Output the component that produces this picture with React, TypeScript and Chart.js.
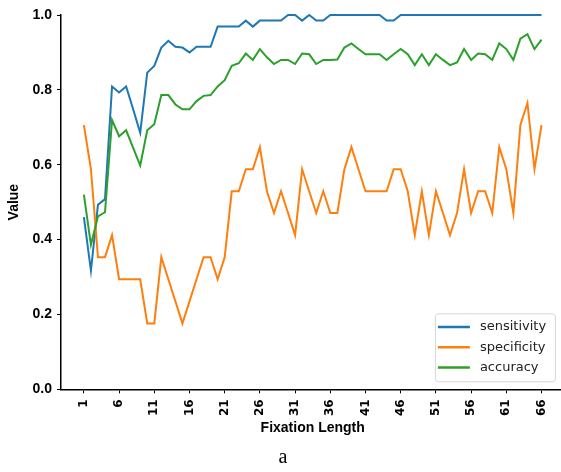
import React, { useEffect, useRef } from "react";
import { Chart, registerables } from "chart.js";

Chart.register(...registerables);

const fixationLengths = [
  1, 2, 3, 4, 5, 6, 7, 8, 9, 10, 11, 12, 13, 14, 15, 16, 17, 18, 19, 20, 21, 22,
  23, 24, 25, 26, 27, 28, 29, 30, 31, 32, 33, 34, 35, 36, 37, 38, 39, 40, 41, 42,
  43, 44, 45, 46, 47, 48, 49, 50, 51, 52, 53, 54, 55, 56, 57, 58, 59, 60, 61, 62,
  63, 64, 65, 66,
];

const sensitivity = [
  0.46, 0.317, 0.493, 0.508, 0.809, 0.793, 0.809, 0.748, 0.685, 0.846, 0.864,
  0.913, 0.931, 0.915, 0.913, 0.9, 0.915, 0.915, 0.915, 0.969, 0.969, 0.969,
  0.969, 0.985, 0.969, 0.985, 0.985, 0.985, 0.985, 1.0, 1.0, 0.985, 1.0, 0.985,
  0.985, 1.0, 1.0, 1.0, 1.0, 1.0, 1.0, 1.0, 1.0, 0.985, 0.985, 1.0, 1.0, 1.0,
  1.0, 1.0, 1.0, 1.0, 1.0, 1.0, 1.0, 1.0, 1.0, 1.0, 1.0, 1.0, 1.0, 1.0, 1.0,
  1.0, 1.0, 1.0,
];

const specificity = [
  0.706, 0.588, 0.353, 0.353, 0.412, 0.294, 0.294, 0.294, 0.294, 0.176, 0.176,
  0.353, 0.294, 0.235, 0.176, 0.235, 0.294, 0.353, 0.353, 0.294, 0.353, 0.529,
  0.529, 0.588, 0.588, 0.647, 0.529, 0.471, 0.529, 0.471, 0.412, 0.588, 0.529,
  0.471, 0.529, 0.471, 0.471, 0.588, 0.647, 0.588, 0.529, 0.529, 0.529, 0.529,
  0.588, 0.588, 0.529, 0.412, 0.529, 0.412, 0.529, 0.471, 0.412, 0.471, 0.588,
  0.471, 0.529, 0.529, 0.471, 0.647, 0.588, 0.471, 0.706, 0.765, 0.588, 0.706,
];

const accuracy = [
  0.52, 0.386, 0.462, 0.473, 0.719, 0.676, 0.692, 0.645, 0.598, 0.692, 0.708,
  0.786, 0.786, 0.761, 0.748, 0.748, 0.77, 0.784, 0.786, 0.809, 0.826, 0.864,
  0.871, 0.897, 0.88, 0.909, 0.887, 0.869, 0.88, 0.88, 0.869, 0.897, 0.895,
  0.869, 0.88, 0.88, 0.881, 0.913, 0.924, 0.909, 0.895, 0.895, 0.895, 0.88,
  0.895, 0.909, 0.895, 0.866, 0.895, 0.866, 0.895, 0.88, 0.866, 0.873, 0.909,
  0.88, 0.897, 0.895, 0.88, 0.924, 0.909, 0.88, 0.937, 0.949, 0.909, 0.934,
];

const xTickValues = [1, 6, 11, 16, 21, 26, 31, 36, 41, 46, 51, 56, 61, 66];
const yTickValues = [0, 0.2, 0.4, 0.6, 0.8, 1.0];
const seriesNames = ["sensitivity", "specificity", "accuracy"];
const seriesColors = ["#1f77b4", "#ff7f0e", "#2ca02c"];
const xLabel = "Fixation Length";
const yLabel = "Value";
const caption = "a";

const CANVAS_W = 580;
const CANVAS_H = 472;
const AREA_LEFT = 61;
const AREA_TOP = 15;
const AREA_BOTTOM = 389.3;
const AREA_RIGHT = 564.4;

const boxLegend = {
  id: "boxLegend",
  afterDatasetsDraw(chart: any) {
    const { ctx, chartArea } = chart;
    const boxW = 120;
    const boxH = 68;
    const right = chartArea.right - 9.5;
    const bottom = chartArea.bottom - 8;
    const left = right - boxW;
    const top = bottom - boxH;
    ctx.save();
    ctx.beginPath();
    if (ctx.roundRect) ctx.roundRect(left + 0.5, top + 0.5, boxW, boxH, 3);
    else ctx.rect(left + 0.5, top + 0.5, boxW, boxH);
    ctx.fillStyle = "rgba(255,255,255,0.8)";
    ctx.fill();
    ctx.strokeStyle = "#d6d6d6";
    ctx.lineWidth = 1;
    ctx.stroke();
    ctx.font = "13px 'DejaVu Sans'";
    ctx.textBaseline = "middle";
    ctx.textAlign = "left";
    chart.data.datasets.forEach((ds: any, i: number) => {
      const y = top + 13.7 + i * 20.2;
      ctx.strokeStyle = ds.borderColor;
      ctx.lineWidth = 2.5;
      ctx.beginPath();
      ctx.moveTo(left + 3, y);
      ctx.lineTo(left + 35, y);
      ctx.stroke();
      ctx.fillStyle = "#222";
      ctx.fillText(ds.label, left + 45, y);
    });
    ctx.restore();
  },
};

export default function App() {
  const canvasRef = useRef<HTMLCanvasElement | null>(null);

  useEffect(() => {
    const canvas = canvasRef.current;
    if (!canvas) return;
    const seriesValues = [sensitivity, specificity, accuracy];
    const datasets = seriesValues.map((vals, s) => ({
      label: seriesNames[s],
      data: vals.map((v, i) => ({ x: fixationLengths[i], y: v })),
      borderColor: seriesColors[s],
      backgroundColor: seriesColors[s],
      borderWidth: 2,
      pointRadius: 0,
      tension: 0,
      fill: false,
      clip: false,
      order: 3 - s,
    }));

    const axisTitleFont = { family: "'Liberation Sans', Arial, sans-serif", weight: "bold" as const, size: 14 };

    const chart = new Chart(canvas, {
      type: "line",
      data: { datasets },
      plugins: [boxLegend],
      options: {
        animation: false,
        responsive: false,
        maintainAspectRatio: false,
        devicePixelRatio: 1,
        layout: {
          padding: { left: 0, top: AREA_TOP, right: CANVAS_W - AREA_RIGHT, bottom: 0 },
        },
        plugins: {
          legend: { display: false },
          tooltip: { enabled: false },
        },
        scales: {
          x: {
            type: "linear",
            min: -2.25,
            max: 69.25,
            afterBuildTicks: (scale: any) => {
              scale.ticks = xTickValues.map((v) => ({ value: v }));
            },
            afterFit: (scale: any) => {
              scale.height = CANVAS_H - AREA_BOTTOM;
            },
            ticks: {
              autoSkip: false,
              minRotation: 90,
              maxRotation: 90,
              padding: 6,
              color: "#000",
              font: { family: "'DejaVu Sans', sans-serif", weight: "bold", size: 12 },
              callback: (v: any) => String(v),
            },
            grid: {
              display: true,
              drawOnChartArea: false,
              drawTicks: true,
              tickLength: 4,
              color: "#000",
              lineWidth: 1,
            },
            border: { display: true, color: "#000", width: 1.5 },
            title: {
              display: true,
              text: xLabel,
              color: "#000",
              font: axisTitleFont,
              padding: { top: 0, bottom: 35 },
            },
          },
          y: {
            type: "linear",
            min: 0,
            max: 1,
            afterBuildTicks: (scale: any) => {
              scale.ticks = yTickValues.map((v) => ({ value: v }));
            },
            afterFit: (scale: any) => {
              scale.width = AREA_LEFT;
            },
            ticks: {
              padding: 5,
              color: "#000",
              font: { family: "'Liberation Sans', Arial, sans-serif", weight: "bold", size: 14 },
              callback: (v: any) => Number(v).toFixed(1),
            },
            grid: {
              display: true,
              drawOnChartArea: false,
              drawTicks: true,
              tickLength: 4,
              color: "#000",
              lineWidth: 1,
            },
            border: { display: true, color: "#000", width: 1.5 },
            title: {
              display: true,
              text: yLabel,
              color: "#000",
              font: axisTitleFont,
              padding: { top: 6, bottom: 0 },
            },
          },
        },
      },
    } as any);

    return () => chart.destroy();
  }, []);

  return (
    <div
      style={{
        position: "absolute",
        left: 0,
        top: 0,
        width: 561,
        height: 472,
        overflow: "hidden",
        background: "#fff",
      }}
    >
      <canvas
        ref={canvasRef}
        width={CANVAS_W}
        height={CANVAS_H}
        style={{ position: "absolute", left: 0, top: 0, width: CANVAS_W, height: CANVAS_H }}
      />
      <div
        style={{
          position: "absolute",
          left: 0,
          top: 446,
          width: 566,
          textAlign: "center",
          fontFamily: "'Liberation Serif', 'Times New Roman', serif",
          fontSize: 20,
          lineHeight: "20px",
          color: "#000",
        }}
      >
        {caption}
      </div>
    </div>
  );
}
